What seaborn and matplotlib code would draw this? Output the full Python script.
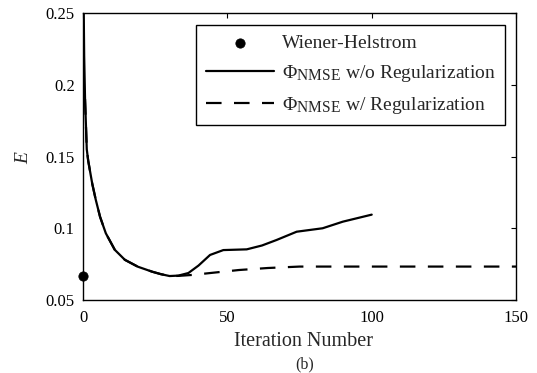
import numpy as np
import pandas as pd
import matplotlib
matplotlib.use("Agg")
import matplotlib.pyplot as plt
import seaborn as sns
try:
    import matplotlib._mathtext as _mt
    _mt.SHRINK_FACTOR = 0.8
except Exception:
    pass

# ---- data ----
iter_noreg = [0, 0.4, 0.7, 1.3, 1.8, 3.2, 4.4, 5.9, 7.9, 11, 14.5, 19, 24, 27, 30, 33,
              36.5, 40, 44, 48.6, 56.7, 62, 67, 74, 83, 90, 100]
E_noreg = [0.30, 0.22, 0.19, 0.155, 0.147, 0.131, 0.120, 0.108, 0.0965, 0.085, 0.078,
           0.0732, 0.0697, 0.068, 0.0667, 0.067, 0.0688, 0.074, 0.0814, 0.0848, 0.0853,
           0.088, 0.0918, 0.0976, 0.100, 0.1046, 0.1095]
iter_reg = [0.7, 1.3, 1.8, 3.2, 4.4, 5.9, 7.9, 11, 14.5, 19, 24, 27, 30, 33, 38, 45, 54,
            64, 75, 150]
E_reg = [0.19, 0.155, 0.147, 0.131, 0.120, 0.108, 0.0965, 0.085, 0.078, 0.0732, 0.0697,
         0.068, 0.0667, 0.0668, 0.0675, 0.069, 0.0709, 0.0723, 0.0733, 0.0733]
wh_iter = [0]
wh_E = [0.067]

xticks = [0, 50, 100, 150]
yticks = [0.05, 0.1, 0.15, 0.2, 0.25]
ytick_labels = ["0.05", "0.1", "0.15", "0.2", "0.25"]

sns.set_style("white")
plt.rcParams['font.family'] = ['Liberation Serif', 'DejaVu Serif']
plt.rcParams['mathtext.fontset'] = 'custom'
plt.rcParams['mathtext.rm'] = 'Liberation Serif'
plt.rcParams['mathtext.it'] = 'Liberation Serif:italic'

df_noreg = pd.DataFrame({"it": iter_noreg, "E": E_noreg})
df_reg = pd.DataFrame({"it": iter_reg, "E": E_reg})
df_wh = pd.DataFrame({"it": wh_iter, "E": wh_E})

fig = plt.figure(figsize=(5.37, 3.73), dpi=100)
ax = fig.add_axes([0.1546, 0.1957, 0.8064, 0.7693])

sns.scatterplot(data=df_wh, x="it", y="E", ax=ax, color="black", s=45, edgecolor="black",
                label="Wiener-Helstrom", clip_on=False, zorder=5)
sns.lineplot(data=df_noreg, x="it", y="E", ax=ax, color="black", lw=1.6, estimator=None,
             sort=False, label=r"$\Phi_{\rm NMSE}$ w/o Regularization")
sns.lineplot(data=df_reg, x="it", y="E", ax=ax, color="black", lw=1.6, estimator=None,
             sort=False, dashes=False, label=r"$\Phi_{\rm NMSE}$ w/ Regularization")
ax.lines[-1].set_dashes((7.0, 5.6))

ax.set_xlim(0, 150)
ax.set_ylim(0.05, 0.25)
ax.set_xticks(xticks)
ax.set_yticks(yticks)
ax.set_yticklabels(ytick_labels)
ax.tick_params(direction="in", length=3.5, width=0.8, top=True, right=True,
               labelsize=12, colors="black")
ax.tick_params(axis="x", pad=7)
ax.tick_params(axis="y", pad=6)
for s in ax.spines.values():
    s.set_color("black")
    s.set_linewidth(1.0)

ax.set_xlabel("Iteration Number", fontsize=14.5)
ax.xaxis.set_label_coords(0.510, -0.112)
ax.set_ylabel(r"$E$", fontsize=14)
ax.yaxis.set_label_coords(-0.118, 0.499)
fig.text(305 / 537, 1 - 364 / 373, "(b)", ha="center", va="center", fontsize=11.5)

leg = ax.legend(loc="upper right", bbox_to_anchor=(0.975, 0.959), borderaxespad=0,
                fontsize=14, frameon=True, fancybox=False, edgecolor="black",
                handlelength=3.5, handletextpad=0.4, labelspacing=0.55, borderpad=0.5)
leg.get_frame().set_linewidth(1.0)
leg.get_frame().set_alpha(1)

fig.savefig("out.png", dpi=100)
